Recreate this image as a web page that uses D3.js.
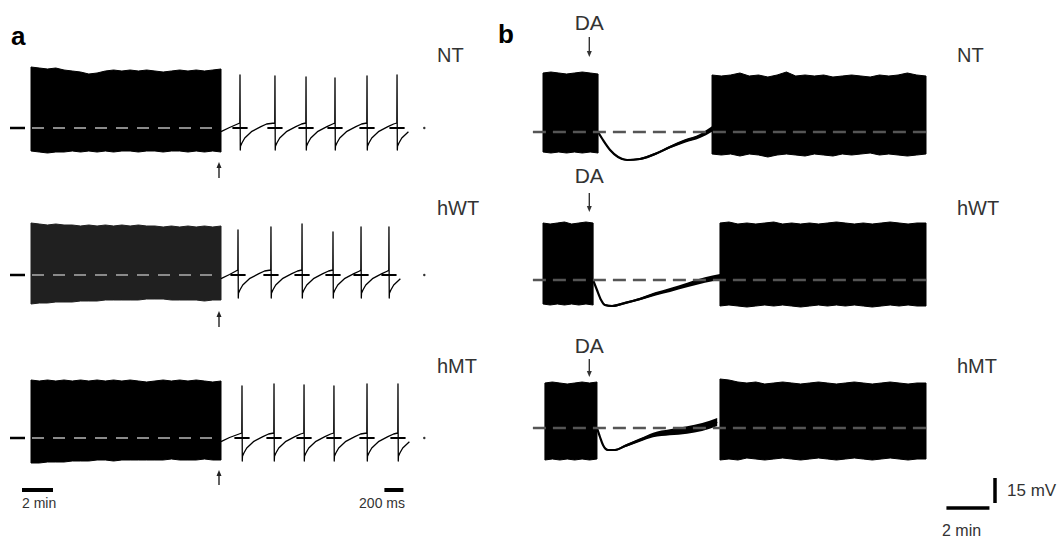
<!DOCTYPE html>
<html>
<head>
<meta charset="utf-8">
<script src="https://cdn.jsdelivr.net/npm/d3@7"></script>
<style>
  body { margin: 0; background: #fff; }
  svg { display: block; font-family: "Liberation Sans", Arial, sans-serif; }
</style>
</head>
<body>
<svg width="1062" height="542"></svg>
<script>
  // all voltages are mV relative to the dashed baseline of each trace

  const rowNames = ["NT", "hWT", "hMT"];

  // ---- panel a: 12 min of sustained firing (envelopes, evenly sampled) ----
  const ntTopA = [36.6, 36, 35.4, 36, 34.8, 34.2, 33.6, 32.4, 33, 34.2, 34.8, 34.2, 34.8, 34.2, 34.8, 34.2, 33.6, 34.2, 34.8, 34.2, 34.8, 34.2, 34.8, 35.4];
  const ntBottomA = [-13.8, -14.4, -15, -14.4, -14.4, -13.8, -14.4, -13.8, -14.4, -13.8, -14.4, -13.8, -13.8, -14.4, -13.8, -13.8, -14.4, -13.8, -13.8, -14.4, -13.8, -14.4, -13.8, -14.4];
  const wtTopA = [31.2, 30.6, 30, 30.6, 30, 30, 29.4, 30, 29.4, 30, 29.4, 30, 29.4, 30, 29.4, 29.4, 28.8, 29.4, 28.8, 29.4, 28.8, 29.4, 28.8, 29.4];
  const wtBottomA = [-17.4, -16.8, -16.8, -16.2, -16.2, -16.2, -15.6, -15.6, -15.6, -15, -15, -15, -15, -15, -14.4, -14.4, -14.4, -15, -15, -15, -15, -15.6, -15, -15];
  const mtTopA = [34.8, 34.2, 34.8, 34.2, 34.8, 34.2, 34.8, 34.2, 34.8, 34.2, 34.8, 34.2, 34.8, 34.2, 33.6, 34.2, 34.8, 34.2, 34.8, 34.2, 34.8, 34.2, 33.6, 34.2];
  const mtBottomA = [-15, -15, -14.4, -14.4, -14.4, -13.8, -13.8, -13.8, -13.2, -13.2, -13.8, -13.2, -13.2, -13.2, -13.2, -13.2, -13.2, -12.6, -13.2, -13.2, -13.2, -12.6, -13.2, -13.2];

  // ---- panel a: expanded 2 s of firing (spike times in ms) ----
  const ntSpikesA = [200, 568, 895, 1200, 1537, 1853];
  const ntPeaksA = [31.8, 31.2, 30.6, 30, 31.2, 31.8];
  const wtSpikesA = [179, 526, 853, 1179, 1474, 1768];
  const wtPeaksA = [27, 28.8, 30.6, 25.8, 28.8, 28.8];
  const mtSpikesA = [221, 558, 874, 1189, 1537, 1863];
  const mtPeaksA = [31.2, 32.4, 31.8, 31.2, 32.4, 32.4];
  const troughsA = [-13.2, -13.8, -13.8];
  // after-hyperpolarisation recovery: [ms after spike, mV]
  const ahpRecovery = [[5, -11], [20, -9], [50, -6], [120, -2.2], [220, 0.8], [280, 2.4]];

  // ---- panel b: firing before / after DA (minutes) ----
  const ntB1Top = [35.4, 36, 35.4, 34.8, 35.4, 36, 35.4, 34.8];
  const ntB1Bottom = [-12, -12.6, -12, -12.6, -12, -12.6, -12, -12.6];
  const ntB2Top = [34.2, 33.6, 34.2, 35.4, 33.6, 34.2, 33, 34.2, 36, 33.6, 34.2, 33.6, 34.2, 33, 33.6, 34.2, 33.6, 33, 34.2, 33.6, 34.2, 35.4, 34.2, 33.6];
  const ntB2Bottom = [-13.2, -13.8, -13.2, -14.4, -13.2, -13.8, -15, -13.8, -13.2, -13.8, -14.4, -13.2, -13.8, -14.4, -13.2, -13.8, -13.2, -12.6, -13.8, -13.2, -13.8, -14.4, -13.8, -13.2];
  const wtB1Top = [34.2, 33.6, 34.2, 34.8, 33.6, 34.2, 34.8, 34.2];
  const wtB1Bottom = [-14.4, -15, -14.4, -15, -14.4, -15, -14.4, -15];
  const wtB2Top = [34.2, 34.8, 33.6, 34.2, 33.6, 34.2, 34.8, 33.6, 34.2, 33.6, 34.2, 33.6, 34.2, 34.8, 34.2, 33.6, 34.2, 33.6, 34.2, 34.8, 34.2, 33.6, 34.2, 34.2];
  const wtB2Bottom = [-15.6, -15, -15.6, -16.2, -15.6, -15, -15.6, -15, -15.6, -16.2, -15.6, -15, -15.6, -15, -15.6, -15, -15.6, -16.2, -15.6, -15, -15.6, -15, -15.6, -15.6];
  const mtB1Top = [27, 27.6, 27, 26.4, 27, 27.6, 27, 27.6];
  const mtB1Bottom = [-19.2, -18.6, -19.2, -18.6, -19.2, -18.6, -19.2, -18.6];
  const mtB2Top = [29.4, 28.8, 27.6, 27, 27.6, 26.4, 27, 27.6, 27, 26.4, 27, 27.6, 27, 26.4, 27, 27.6, 27, 26.4, 27, 27.6, 27, 26.4, 27, 27];
  const mtB2Bottom = [-19.2, -18.6, -19.2, -18, -18.6, -19.2, -18.6, -18, -18.6, -19.2, -18.6, -18, -18.6, -19.2, -18.6, -18, -18.6, -19.2, -18.6, -18, -18.6, -19.2, -18.6, -18.6];
  // burst spans [start, end] in min: before DA, after washout
  const ntSpansB = [[0, 2.56], [7.86, 17.81]];
  const wtSpansB = [[0, 2.33], [8.23, 17.81]];
  const mtSpansB = [[0.09, 2.51], [8.23, 17.81]];

  // DA-induced hyperpolarisation: time (min), voltage (mV), noise half-width (mV)
  const daTimeNT = [2.56, 2.79, 3.12, 3.49, 3.91, 4.51, 5.21, 5.91, 6.6, 7.3, 7.86];
  const daVoltNT = [0, -4.8, -10.8, -15, -16.8, -16.2, -13.2, -9, -5.4, -2.4, 1.8];
  const daNoiseNT = [0.3, 0.4, 0.4, 0.5, 0.5, 0.6, 0.7, 0.8, 1, 1.2, 1.6];
  const daTimeWT = [2.33, 2.51, 2.7, 2.88, 3.21, 3.81, 4.51, 5.21, 5.91, 6.7, 7.53, 8.23];
  const daVoltWT = [0, -6, -12, -15, -15.6, -13.8, -11.4, -8.4, -6, -3, 0, 1.8];
  const daNoiseWT = [0.3, 0.4, 0.5, 0.6, 0.6, 0.7, 0.8, 1, 1.2, 1.4, 1.6, 1.8];
  const daTimeMT = [2.51, 2.65, 2.79, 3.02, 3.35, 3.81, 4.51, 5.12, 5.9, 6.7, 7.4, 8.1];
  const daVoltMT = [0, -5.4, -10.2, -13.2, -13.2, -10.8, -7.2, -4.2, -2.6, -1.2, 0.6, 3.6];
  const daNoiseMT = [0.3, 0.4, 0.5, 0.6, 0.6, 0.8, 1, 1.4, 1.8, 2.2, 2.4, 2.4];
  const daOnset = 2.2; // min

  // ---------------------------------------------------------------
  const svg = d3.select("svg");
  svg.append("rect").attr("width", 1062).attr("height", 542).attr("fill", "#fff");

  // 15 mV = 25 px
  function vScale(base) {
    return d3.scaleLinear().domain([0, 15]).range([base, base - 25]);
  }

  function drawBurst(g, x, y, span, top, bottom, fill) {
    const idx = d3.scaleLinear().domain([0, top.length - 1]).range(span);
    const area = d3.area()
      .x((d, i) => x(idx(i)))
      .y0((d, i) => y(bottom[i]))
      .y1(d => y(d));
    g.append("path")
      .attr("d", area(top))
      .attr("fill", fill)
      .attr("stroke", fill)
      .attr("stroke-width", 1)
      .attr("stroke-linejoin", "miter");
  }

  function arrow(g, x, yTail, yHead, color) {
    const dir = yHead < yTail ? 1 : -1;
    g.append("line")
      .attr("x1", x).attr("x2", x)
      .attr("y1", yTail).attr("y2", yHead + dir * 4)
      .attr("stroke", color).attr("stroke-width", 1.4);
    g.append("path")
      .attr("d", `M${x - 2.5},${yHead + dir * 6}L${x},${yHead}L${x + 2.5},${yHead + dir * 6}Z`)
      .attr("fill", color);
  }

  function label(x, y, str, size, weight, color) {
    return svg.append("text")
      .attr("x", x).attr("y", y)
      .attr("font-size", size)
      .attr("font-weight", weight || "normal")
      .attr("fill", color || "#333")
      .text(str);
  }

  // ---------------- panel a ----------------
  const panelA = svg.append("g");
  const minA = d3.scaleLinear().domain([0, 12.26]).range([31, 221]);
  const msA = d3.scaleLinear().domain([0, 2000]).range([221, 411]);
  const baseA = [128, 275, 438];
  const arrowA = [[178, 162], [327, 311], [485, 470]];
  const topsA = [ntTopA, wtTopA, mtTopA];
  const bottomsA = [ntBottomA, wtBottomA, mtBottomA];
  const spikesA = [ntSpikesA, wtSpikesA, mtSpikesA];
  const peaksA = [ntPeaksA, wtPeaksA, mtPeaksA];
  const fillA = ["#000", "#202020", "#000"];
  const endA = 1990;

  function spikeTrace(spikes, peaks, trough) {
    const pts = [[0, -2.2], [90, 0.3]];
    spikes.forEach((t, i) => {
      const next = i < spikes.length - 1 ? spikes[i + 1] : endA;
      pts.push([t - 2, 3], [t, peaks[i]], [t + 3, trough]);
      ahpRecovery.forEach(([dt, v]) => {
        if (t + dt < next - 6) pts.push([t + dt, v]);
      });
    });
    return pts;
  }

  rowNames.forEach((name, r) => {
    const g = panelA.append("g");
    const y = vScale(baseA[r]);
    const base = y(0);

    // short baseline marker at left
    g.append("line")
      .attr("x1", 10).attr("x2", 25)
      .attr("y1", base).attr("y2", base)
      .attr("stroke", "#000").attr("stroke-width", 2.5);

    drawBurst(g, minA, y, [0, 12.26], topsA[r], bottomsA[r], fillA[r]);

    // grey dashed baseline through the burst
    g.append("line")
      .attr("x1", minA(0) + 1).attr("x2", minA(12.26))
      .attr("y1", base).attr("y2", base)
      .attr("stroke", "#8a8a8a").attr("stroke-width", 2)
      .attr("stroke-dasharray", "12,9");

    // expanded spikes
    const line = d3.line().x(d => msA(d[0])).y(d => y(d[1]));
    g.append("path")
      .attr("d", line(spikeTrace(spikesA[r], peaksA[r], troughsA[r])))
      .attr("fill", "none")
      .attr("stroke", "#000")
      .attr("stroke-width", 1.3)
      .attr("stroke-linejoin", "round");

    spikesA[r].forEach(t => {
      g.append("line")
        .attr("x1", msA(t - 80)).attr("x2", msA(t + 80))
        .attr("y1", base).attr("y2", base)
        .attr("stroke", "#000").attr("stroke-width", 2);
    });

    g.append("circle")
      .attr("cx", msA(2140)).attr("cy", base).attr("r", 1.2)
      .attr("fill", "#333");

    arrow(g, msA(0) - 2, arrowA[r][0], arrowA[r][1], "#222");
  });

  // panel a scale bars
  panelA.append("line")
    .attr("x1", minA(0) - 9).attr("x2", minA(2) - 9)
    .attr("y1", 490).attr("y2", 490)
    .attr("stroke", "#000").attr("stroke-width", 4);
  label(22, 508, "2 min", 14);
  panelA.append("line")
    .attr("x1", msA(1720)).attr("x2", msA(1920))
    .attr("y1", 490).attr("y2", 490)
    .attr("stroke", "#000").attr("stroke-width", 4);
  label(405, 508, "200 ms", 14).attr("text-anchor", "end");

  // ---------------- panel b ----------------
  const panelB = svg.append("g");
  const minB = d3.scaleLinear().domain([0, 17.81]).range([543, 926]);
  const baseB = [132, 280, 428];
  const daTextY = [30, 183, 353];
  const daArrow = [[37, 57], [193, 212], [359, 377]];
  const spansB = [ntSpansB, wtSpansB, mtSpansB];
  const burstsB = [
    [[ntB1Top, ntB1Bottom], [ntB2Top, ntB2Bottom]],
    [[wtB1Top, wtB1Bottom], [wtB2Top, wtB2Bottom]],
    [[mtB1Top, mtB1Bottom], [mtB2Top, mtB2Bottom]]
  ];
  const daTimes = [daTimeNT, daTimeWT, daTimeMT];
  const daVolts = [daVoltNT, daVoltWT, daVoltMT];
  const daNoise = [daNoiseNT, daNoiseWT, daNoiseMT];

  rowNames.forEach((name, r) => {
    const g = panelB.append("g");
    const y = vScale(baseB[r]);
    const base = y(0);

    spansB[r].forEach((span, k) => {
      drawBurst(g, minB, y, span, burstsB[r][k][0], burstsB[r][k][1], "#000");
    });

    // DA response
    const t = daTimes[r], v = daVolts[r], n = daNoise[r];
    const band = d3.area()
      .x((d, i) => minB(t[i]))
      .y0((d, i) => y(v[i] - n[i]))
      .y1((d, i) => y(v[i] + n[i]))
      .curve(d3.curveMonotoneX);
    g.append("path").attr("d", band(v)).attr("fill", "#000");
    const trace = d3.line()
      .x((d, i) => minB(t[i]))
      .y(d => y(d))
      .curve(d3.curveMonotoneX);
    g.append("path")
      .attr("d", trace(v))
      .attr("fill", "none")
      .attr("stroke", "#000")
      .attr("stroke-width", 2.2);

    g.append("line")
      .attr("x1", minB(-0.47)).attr("x2", minB(17.9))
      .attr("y1", base).attr("y2", base)
      .attr("stroke", "#555").attr("stroke-width", 2.5)
      .attr("stroke-dasharray", "13,7");

    label(minB(daOnset) - 1, daTextY[r], "DA", 21).attr("text-anchor", "middle");
    arrow(g, minB(daOnset) - 1, daArrow[r][0], daArrow[r][1], "#333");
  });

  // panel b scale bars
  panelB.append("line")
    .attr("x1", minB(18.76)).attr("x2", minB(20.76))
    .attr("y1", 508).attr("y2", 508)
    .attr("stroke", "#000").attr("stroke-width", 3.5);
  panelB.append("line")
    .attr("x1", 995).attr("x2", 995)
    .attr("y1", vScale(503)(0)).attr("y2", vScale(503)(15))
    .attr("stroke", "#000").attr("stroke-width", 3.5);
  label(1007, 496, "15 mV", 17);
  label(942, 536, "2 min", 16);

  // row and panel labels
  label(11, 45, "a", 26, "bold", "#000");
  label(498, 43, "b", 26, "bold", "#000");
  const labelY = [62, 215, 373];
  rowNames.forEach((name, r) => {
    label(437, labelY[r], name, 20);
    label(957, labelY[r], name, 20);
  });
</script>
</body>
</html>
